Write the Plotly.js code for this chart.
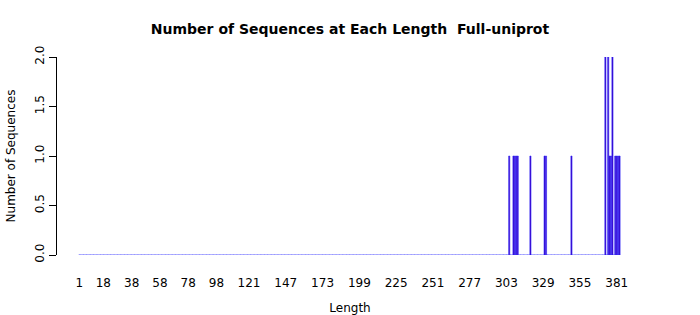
<!DOCTYPE html>
<html>
<head>
<meta charset="utf-8">
<script src="https://cdn.plot.ly/plotly-3.0.1.min.js"></script>
<style>html,body{margin:0;padding:0;background:#fff;}#chart{width:700px;height:315px;}</style>
</head>
<body>
<div id="chart"></div>
<script>
// Sequence lengths that occur, with their counts
const observedLengths = [305, 308, 309, 310, 311, 320, 330, 331, 349, 373, 375, 376, 377, 378, 380, 381, 382, 383];
const observedCounts  = [1,   1,   1,   1,   1,   1,   1,   1,   1,   2,   2,   1,   1,   2,   1,   1,   1,   1];
// Every length from the shortest to the longest gets a bar (zero where absent)
const lengthMin = 1;
const lengthMax = 383;
const tickLabels = [1, 18, 38, 58, 78, 98, 121, 147, 173, 199, 225, 251, 277, 303, 329, 355, 381];
const yTicks = [0, 0.5, 1, 1.5, 2];
const yTickText = ["0.0", "0.5", "1.0", "1.5", "2.0"];

const lengths = [];
const counts = [];
for (let L = lengthMin; L <= lengthMax; L++) {
  lengths.push(L);
  const i = observedLengths.indexOf(L);
  counts.push(i >= 0 ? observedCounts[i] : 0);
}

const font = "DejaVu Sans, Liberation Sans, sans-serif";

Plotly.newPlot("chart", [{
  type: "bar",
  x: lengths,
  y: counts,
  marker: {color: "#4400BE", line: {color: "#2626FF", width: 0.55}},
  hoverinfo: "x+y"
}], {
  width: 700,
  height: 315,
  margin: {l: 57, r: 57, t: 57, b: 60, pad: 0},
  paper_bgcolor: "#ffffff",
  plot_bgcolor: "#ffffff",
  bargap: 0.167,
  showlegend: false,
  font: {family: font, size: 12, color: "#000"},
  title: {
    text: "<b>Number of Sequences at Each Length\u00a0 Full-uniprot</b>",
    font: {family: font, size: 14, color: "#000"},
    x: 0.5, xanchor: "center", y: 0.908, yanchor: "middle"
  },
  xaxis: {
    range: [-14.8, 399.6],
    tickmode: "array",
    tickvals: tickLabels,
    ticktext: tickLabels.map(String),
    ticks: "outside",
    ticklen: 17,
    tickcolor: "rgba(0,0,0,0)",
    showgrid: false,
    zeroline: false,
    showline: false,
    tickfont: {family: font, size: 12, color: "#000"},
    title: {text: "Length", font: {family: font, size: 12, color: "#000"}, standoff: 14}
  },
  yaxis: {
    range: [0, 2],
    tickmode: "array",
    tickvals: yTicks,
    ticktext: yTickText,
    tickangle: -90,
    ticks: "outside",
    ticklen: 7,
    tickcolor: "#000",
    tickwidth: 1,
    showline: true,
    linecolor: "#000",
    linewidth: 1,
    showgrid: false,
    zeroline: false,
    tickfont: {family: font, size: 12, color: "#000"},
    title: {text: "Number of Sequences", font: {family: font, size: 12, color: "#000"}, standoff: 15}
  }
}, {displayModeBar: false, staticPlot: true});
</script>
</body>
</html>
